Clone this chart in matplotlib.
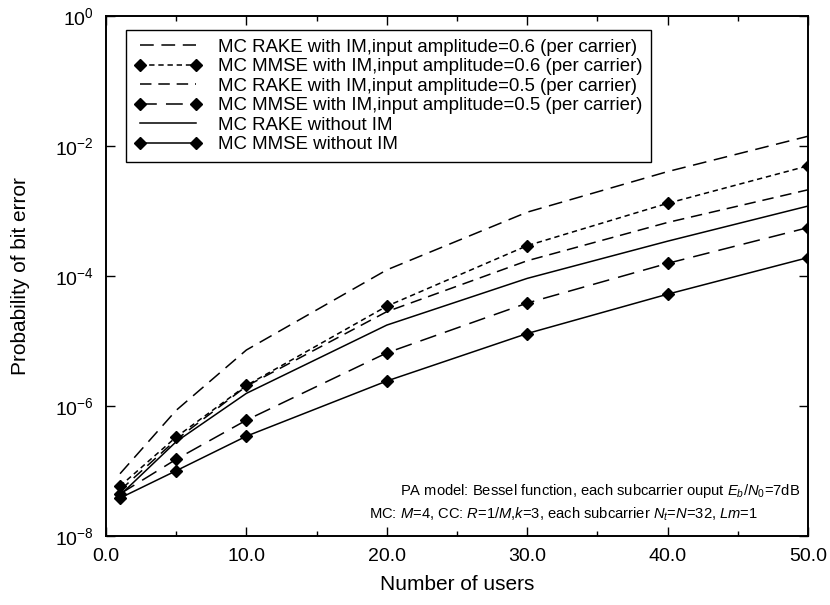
import numpy as np
import matplotlib
matplotlib.use("Agg")
from matplotlib import pyplot as plt
from matplotlib.ticker import FixedLocator, MultipleLocator, FormatStrFormatter, NullLocator

plt.rcParams['font.family'] = ['Liberation Sans', 'DejaVu Sans']
plt.rcParams['mathtext.fontset'] = 'custom'
plt.rcParams['mathtext.rm'] = 'Liberation Sans'
plt.rcParams['mathtext.it'] = 'Liberation Sans:italic'

users = [1, 5, 10, 20, 30, 40, 50]

rake_im_06 = [9.0e-8, 8.5e-7, 7.2e-6, 1.23e-4, 9.5e-4, 4.0e-3, 1.4e-2]
mmse_im_06 = [5.8e-8, 3.3e-7, 2.05e-6, 3.4e-5, 2.9e-4, 1.3e-3, 4.9e-3]
rake_im_05 = [5.0e-8, 3.0e-7, 2.0e-6, 2.8e-5, 1.7e-4, 6.6e-4, 2.1e-3]
mmse_im_05 = [4.4e-8, 1.5e-7, 6.0e-7, 6.5e-6, 3.8e-5, 1.55e-4, 5.5e-4]
rake_no_im = [4.2e-8, 2.8e-7, 1.55e-6, 1.74e-5, 9.1e-5, 3.4e-4, 1.18e-3]
mmse_no_im = [3.8e-8, 1.0e-7, 3.4e-7, 2.4e-6, 1.29e-5, 5.2e-5, 1.9e-4]

labels = [
    "MC RAKE with IM,input amplitude=0.6 (per carrier)",
    "MC MMSE with IM,input amplitude=0.6 (per carrier)",
    "MC RAKE with IM,input amplitude=0.5 (per carrier)",
    "MC MMSE with IM,input amplitude=0.5 (per carrier)",
    "MC RAKE without IM",
    "MC MMSE without IM",
]

fig = plt.figure(figsize=(8.3, 6.05), dpi=100)
ax = fig.add_axes([0.1277, 0.1145, 0.8458, 0.8595])

lw = 1.1
ms = 6
ax.plot(users, rake_im_06, color='black', lw=lw, dashes=(9, 5), label=labels[0])
ax.plot(users, mmse_im_06, color='black', lw=lw, dashes=(3.5, 2.5), marker='D',
        ms=ms, label=labels[1])
ax.plot(users, rake_im_05, color='black', lw=lw, dashes=(7.5, 4.5), label=labels[2])
ax.plot(users, mmse_im_05, color='black', lw=lw, dashes=(11, 6), marker='D',
        ms=ms, label=labels[3])
ax.plot(users, rake_no_im, color='black', lw=lw, label=labels[4])
ax.plot(users, mmse_no_im, color='black', lw=lw, marker='D', ms=ms, label=labels[5])

ax.set_yscale('log')
ax.set_xlim(0, 50)
ax.set_ylim(1e-8, 1)

ax.xaxis.set_major_locator(MultipleLocator(10))
ax.xaxis.set_minor_locator(MultipleLocator(5))
ax.xaxis.set_major_formatter(FormatStrFormatter('%.1f'))
ax.yaxis.set_major_locator(FixedLocator([1e-8, 1e-6, 1e-4, 1e-2, 1e0]))
ax.yaxis.set_minor_locator(NullLocator())
ax.set_yticklabels([r'$10^{-8}$', r'$10^{-6}$', r'$10^{-4}$', r'$10^{-2}$', r'$10^{0}$'])

ax.tick_params(which='both', direction='in', top=True, right=True,
               labelsize=14, width=1, pad=9)
ax.tick_params(which='major', length=6.5)
ax.tick_params(which='minor', length=3.5)
for s in ax.spines.values():
    s.set_linewidth(1.4)

ax.set_xlabel('Number of users', fontsize=15, labelpad=7)
ax.set_ylabel('Probability of bit error', fontsize=15, labelpad=18)

leg = ax.legend(loc='upper left', bbox_to_anchor=(0.0285, 0.9725), fontsize=13.4,
                numpoints=2, handlelength=3.6, handletextpad=0.86,
                labelspacing=0.13, borderpad=0.47, fancybox=False,
                framealpha=1, edgecolor='black', borderaxespad=0)
leg.get_frame().set_linewidth(1.0)

# simulation settings, bottom right inside the axes
ax.text(0.419, 0.086, 'PA model: Bessel function, each subcarrier ouput $E_b/N_0$=7dB',
        transform=ax.transAxes, fontsize=10.6, va='center', ha='left')
ax.text(0.375, 0.0417, 'MC: $M$=4, CC: $R$=1/$M$,$k$=3, each subcarrier $N_t$=$N$=32, $Lm$=1',
        transform=ax.transAxes, fontsize=10.6, va='center', ha='left')

fig.savefig('out.png', dpi=100)
